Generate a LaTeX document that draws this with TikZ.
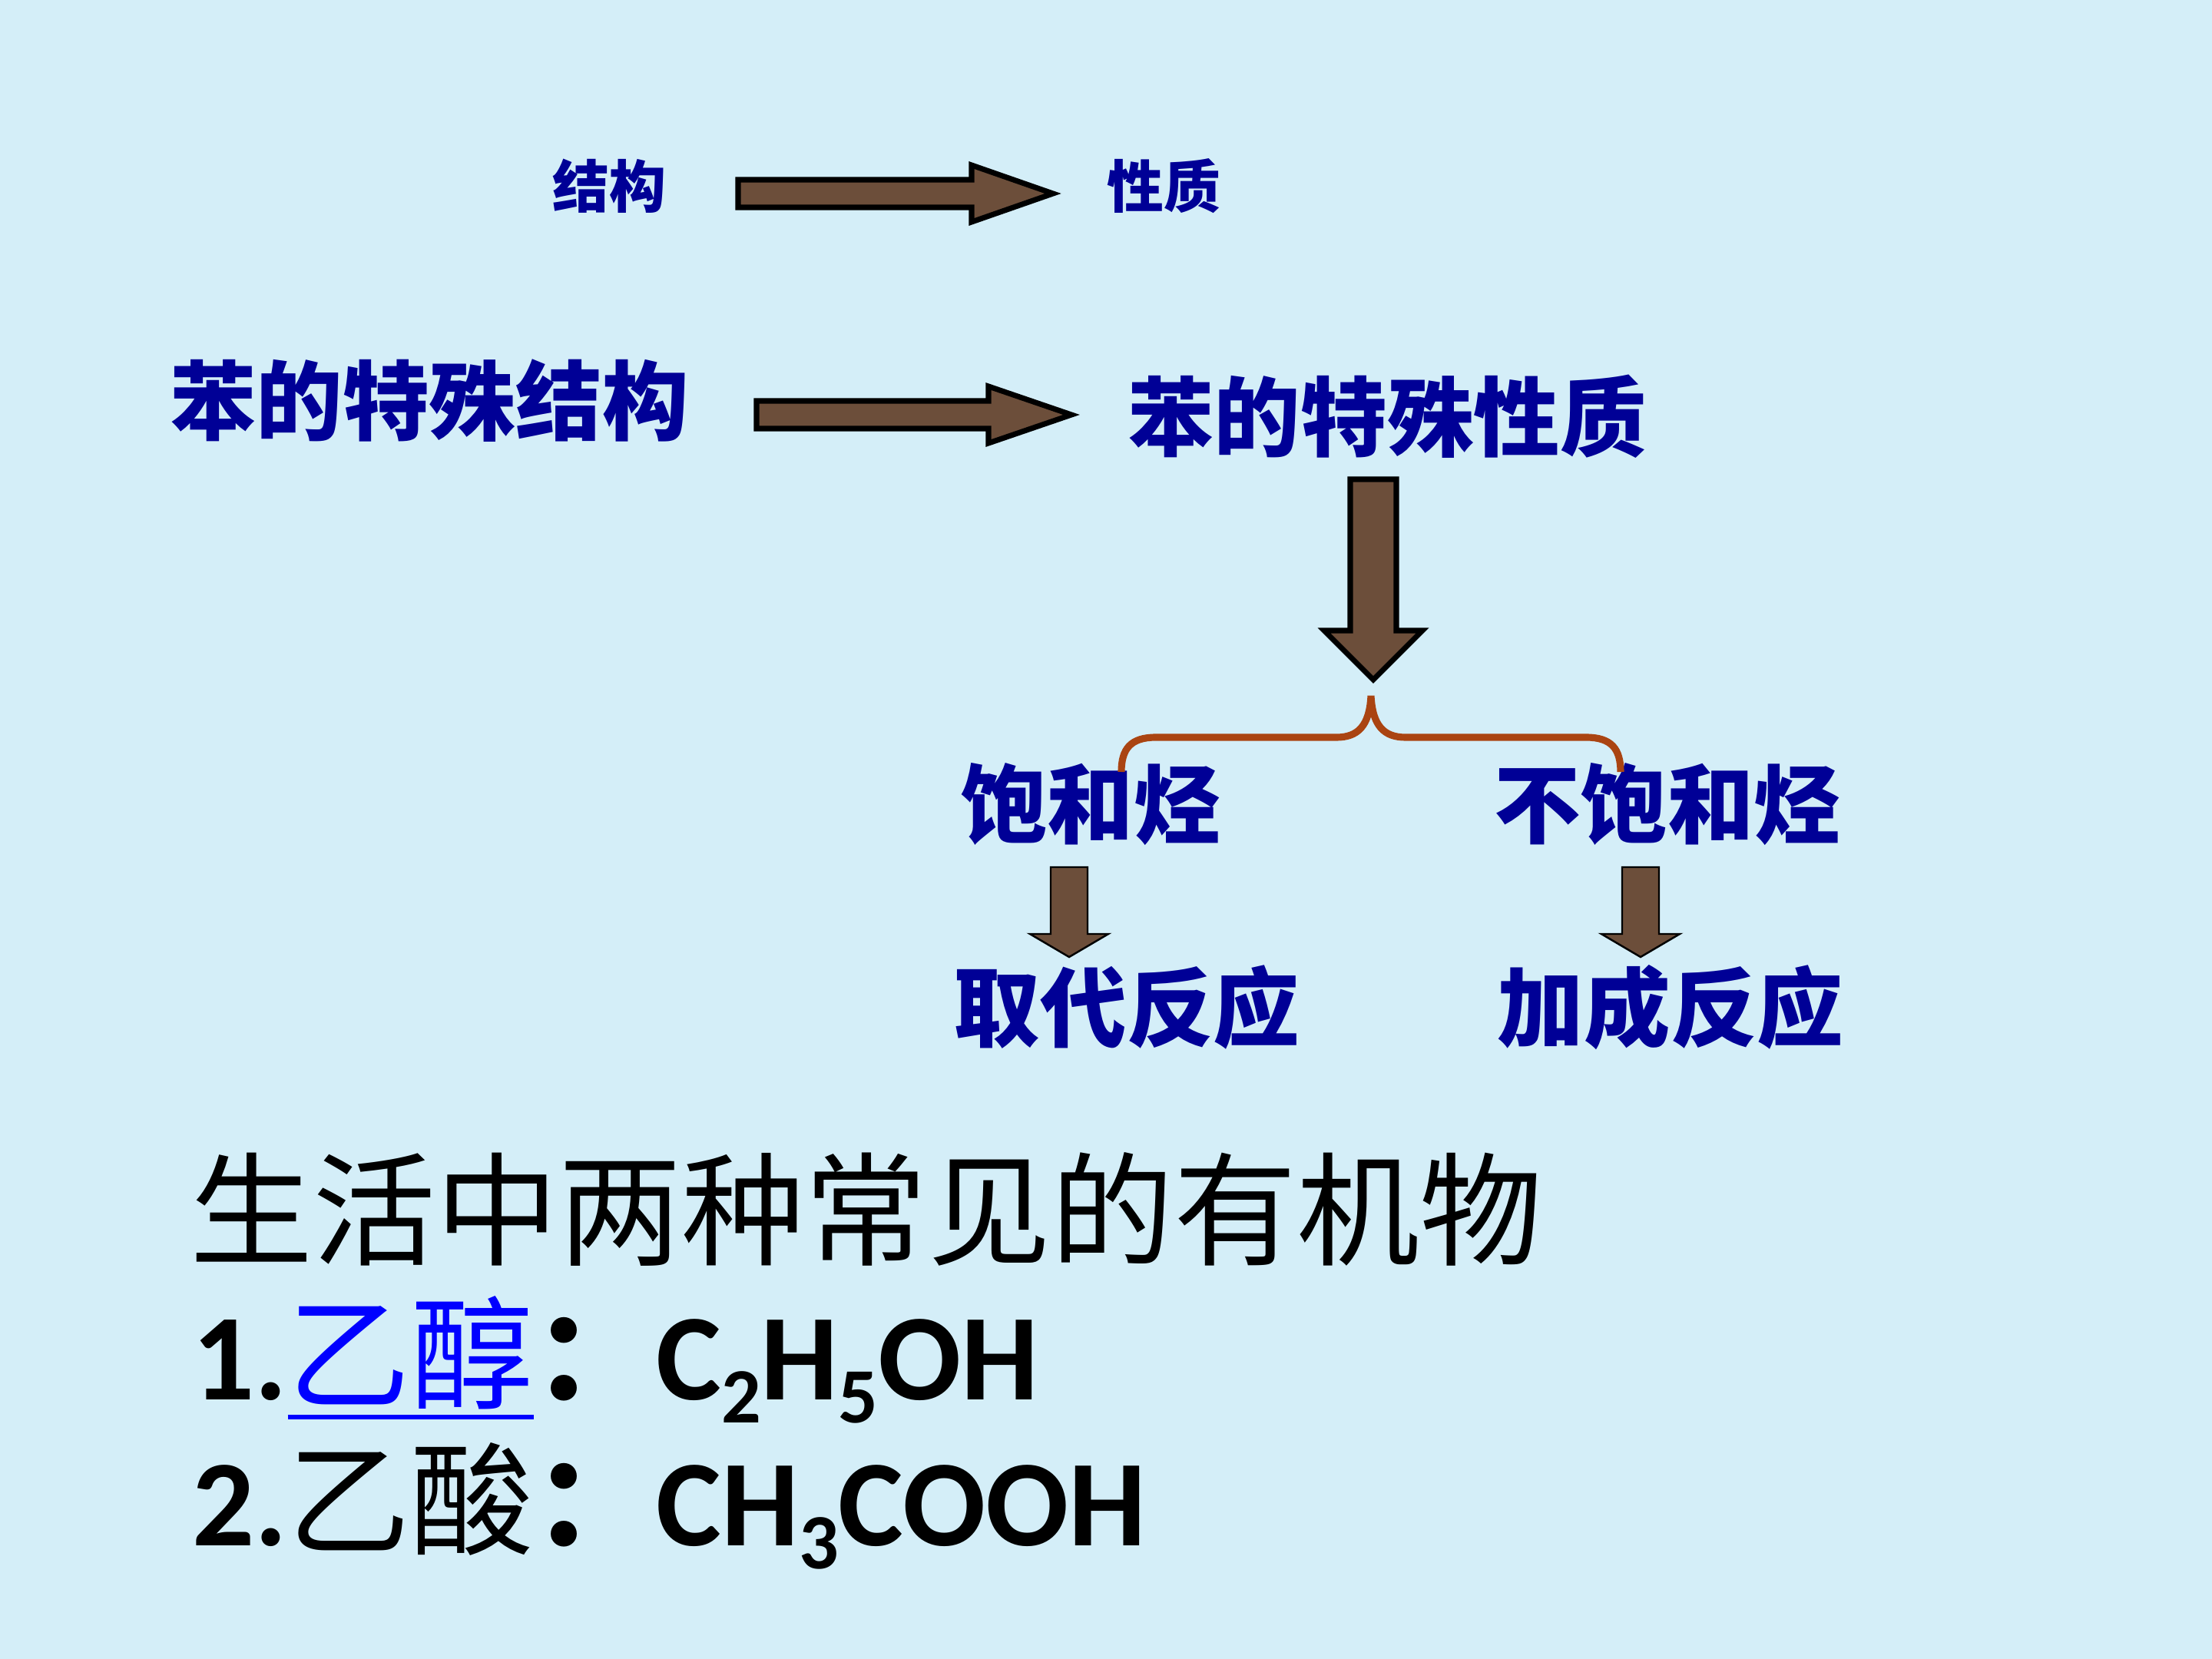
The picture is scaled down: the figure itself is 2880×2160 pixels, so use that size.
\documentclass[tikz,border=0pt]{standalone}
\usepackage{fontspec}
\usepackage{tikz}
\usetikzlibrary{calc}
\newfontfamily\cjk{Noto Sans CJK SC}
\newfontfamily\carl{Carlito}
\definecolor{bgblue}{RGB}{212,238,248}
\definecolor{navyblue}{RGB}{0,0,150}
\definecolor{linkblue}{RGB}{0,0,255}
\definecolor{bracebrown}{RGB}{170,68,18}
\definecolor{arrowbrown}{RGB}{108,78,58}
\newcommand{\chemsub}[1]{\raisebox{-0.19em}{\fontsize{29}{30}\selectfont #1}}
\newcommand{\linktext}[1]{\setbox0\hbox{#1}\rlap{\rule[-0.165em]{\wd0}{0.038em}}\box0}
% block arrows: style, tail, tip, shaft half width, head half width, head length
\newcommand{\rightblock}[6]{\draw [#1] ($(#2)+(0, -#4)$) -- ($(#3)+(-#6, -#4)$) -- ($(#3)+(-#6, -#5)$) -- (#3) -- ($(#3)+(-#6, #5)$) -- ($(#3)+(-#6, #4)$) -- ($(#2)+(0, #4)$) -- cycle;}
\newcommand{\downblock}[6]{\draw [#1] ($(#2)+(-#4, 0)$) -- ($(#3)+(-#4, -#6)$) -- ($(#3)+(-#5, -#6)$) -- (#3) -- ($(#3)+(#5, -#6)$) -- ($(#3)+(#4, -#6)$) -- ($(#2)+(#4, 0)$) -- cycle;}

\begin{document}
\begin{tikzpicture}[x=0.01cm, y=-0.01cm,
    toptext/.style={font=\cjk\bfseries\fontsize{21}{24}\selectfont, text=navyblue, inner sep=0},
    bigtext/.style={font=\cjk\bfseries\fontsize{32}{36}\selectfont, text=navyblue, inner sep=0},
    formula/.style={font=\fontsize{45.5}{50}\selectfont, inner sep=0, anchor=base west},
    fat/.style={draw=black, line width=2pt, fill=arrowbrown},
    slim/.style={draw=black, line width=0.7pt, fill=arrowbrown}]
    \fill [bgblue] (0, 0) rectangle (2880, 2160);
    \node [toptext] (jiegou) at (793, 242) {结构};
    \node [toptext] (xingzhi) at (1515, 242) {性质};
    \node [bigtext] (bjiegou) at (559, 522) {苯的特殊结构};
    \node [bigtext] (bxingzhi) at (1806, 542) {苯的特殊性质};
    \node [bigtext] (baohe) at (1420, 1047) {饱和烃};
    \node [bigtext] (buhe) at (2171, 1047) {不饱和烃};
    \node [bigtext] (qudai) at (1467, 1312) {取代反应};
    \node [bigtext] (jiacheng) at (2175, 1312) {加成反应};
    \node [font=\cjk\fontsize{45.5}{50}\selectfont, inner sep=0] (youji) at (1128, 1574) {生活中两种常见的有机物};
    \node [formula] (yichun) at (250, 1822) {{\carl\bfseries 1.}{\cjk\color{linkblue}\linktext{乙醇}}{\cjk\bfseries ：}{\carl\bfseries C\chemsub{2}H\chemsub{5}OH}};
    \node [formula] (yisuan) at (250, 2012) {{\carl\bfseries 2.}{\cjk 乙酸}{\cjk\bfseries ：}{\carl\bfseries CH\chemsub{3}COOH}};
    \coordinate (s1) at (961, 252);
    \coordinate (e1) at (1371, 252);
    \coordinate (s2) at (985, 540);
    \coordinate (e2) at (1395, 540);
    \coordinate (s3) at (1788, 624);
    \coordinate (e3) at (1788, 885);
    \coordinate (s4) at (1392, 1129);
    \coordinate (e4) at (1392, 1246);
    \coordinate (s5) at (2136, 1129);
    \coordinate (e5) at (2136, 1246);
    \rightblock{fat}{s1}{e1}{18}{37}{106}
    \rightblock{fat}{s2}{e2}{18}{37}{108}
    \downblock{fat}{s3}{e3}{30}{64}{64}
    \downblock{slim}{s4}{e4}{24}{51}{30}
    \downblock{slim}{s5}{e5}{24}{51}{30}
    \coordinate (bl) at (1460, 1005);
    \coordinate (bm) at (1785, 906);
    \coordinate (br) at (2110, 1005);
    \draw [bracebrown, line width=2.6pt] (bl) .. controls (1460, 975) and (1472, 960) .. (1505, 960) -- (1740, 960) .. controls (1768, 960) and (1783, 945) .. (bm) .. controls (1787, 945) and (1802, 960) .. (1830, 960) -- (2065, 960) .. controls (2098, 960) and (2110, 975) .. (br);
\end{tikzpicture}
\end{document}
